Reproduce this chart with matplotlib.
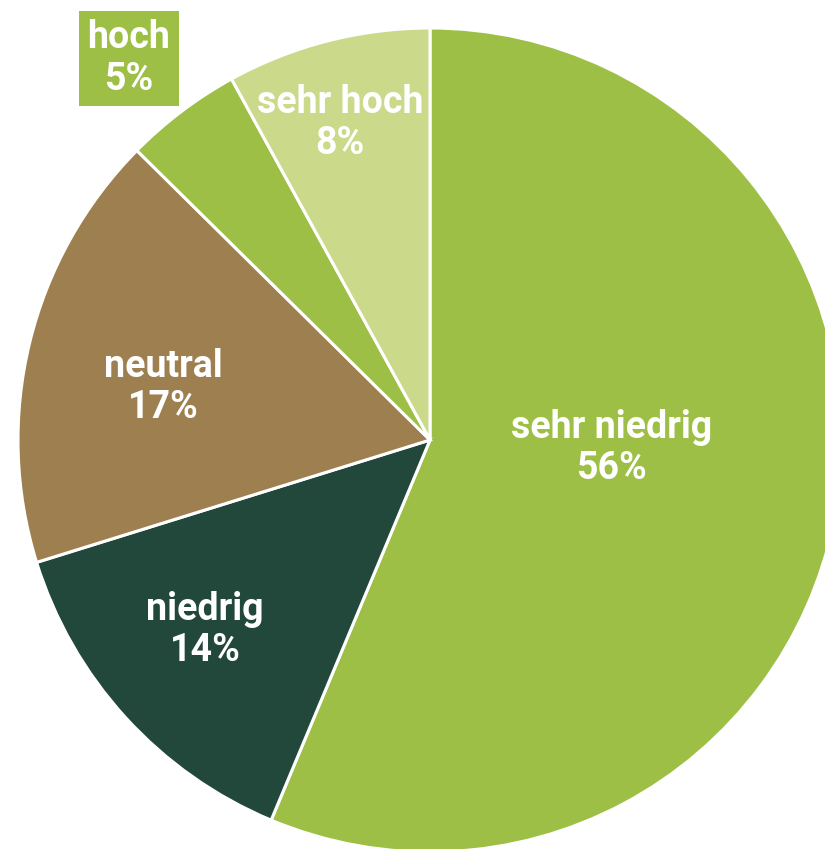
import numpy as np
import matplotlib.pyplot as plt

# Data (slice sizes; labels show rounded values)
labels = ['sehr niedrig', 'niedrig', 'neutral', 'hoch', 'sehr hoch']
values = [56.3, 13.9, 17.2, 4.6, 8.0]
colors = ['#9DBF45', '#22473B', '#9E8050', '#9DBF45', '#CBD98B']

# label placement (radius fraction, angle tweak in degrees)
label_r = [0.44, 0.715, 0.66, 1.18, 0.80]
label_dang = [8.8, -2.1, 2.4, 1.2, 1.4]
outside = [False, False, False, True, False]

W, H = 825, 849
cx, cy, R = 430, H - 440, 412

plt.rcParams['font.family'] = ['Roboto', 'DejaVu Sans']

fig = plt.figure(figsize=(W / 100, H / 100), dpi=100)
ax = fig.add_axes([0, 0, 1, 1])
ax.axis('off')

wedges, _ = ax.pie(values, colors=colors, startangle=90, counterclock=False,
                   center=(cx, cy), radius=R,
                   wedgeprops=dict(edgecolor='white', linewidth=2.2))
ax.set_xlim(0, W)
ax.set_ylim(0, H)
ax.set_aspect('equal')

for w, lab, v, rf, da, out in zip(wedges, labels, values, label_r, label_dang, outside):
    ang = np.deg2rad((w.theta1 + w.theta2) / 2 + da)
    x = cx + rf * R * np.cos(ang)
    y = cy + rf * R * np.sin(ang)
    txt = f'{lab}\n{round(v)}%'
    box = None
    if out:
        box = dict(boxstyle='square,pad=0.23', fc=w.get_facecolor(), ec='none')
    ax.text(x, y, txt, ha='center', va='center', color='white',
            fontsize=27, fontweight='bold', linespacing=1.15, bbox=box)

fig.savefig('out.png', dpi=100, facecolor='white')
